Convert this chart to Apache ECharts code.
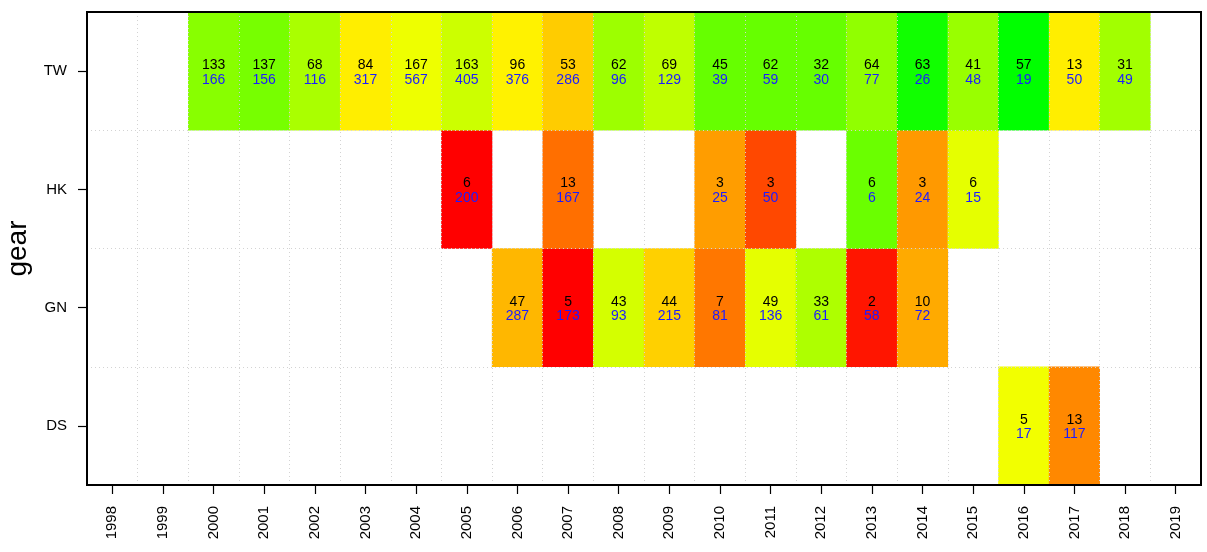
<!DOCTYPE html>
<html>
<head>
<meta charset="utf-8">
<script src="https://cdn.jsdelivr.net/npm/echarts@6/dist/echarts.min.js"></script>
<style>
html,body{margin:0;padding:0;background:#fff;}
#chart{width:1207px;height:552px;}
</style>
</head>
<body>
<div id="chart"></div>
<script>
// ---- data ----
const years = ['1998','1999','2000','2001','2002','2003','2004','2005','2006','2007','2008',
               '2009','2010','2011','2012','2013','2014','2015','2016','2017','2018','2019'];
const gears = ['DS','GN','HK','TW'];

// upper (black) numbers per year
const twTop = [null,null,133,137,68,84,167,163,96,53,62,69,45,62,32,64,63,41,57,13,31,null];
const hkTop = [null,null,null,null,null,null,null,6,null,13,null,null,3,3,null,6,3,6,null,null,null,null];
const gnTop = [null,null,null,null,null,null,null,null,47,5,43,44,7,49,33,2,10,null,null,null,null,null];
const dsTop = [null,null,null,null,null,null,null,null,null,null,null,null,null,null,null,null,null,null,5,13,null,null];

// lower (blue) numbers per year
const twBottom = [null,null,166,156,116,317,567,405,376,286,96,129,39,59,30,77,26,48,19,50,49,null];
const hkBottom = [null,null,null,null,null,null,null,200,null,167,null,null,25,50,null,6,24,15,null,null,null,null];
const gnBottom = [null,null,null,null,null,null,null,null,287,173,93,215,81,136,61,58,72,null,null,null,null,null];
const dsBottom = [null,null,null,null,null,null,null,null,null,null,null,null,null,null,null,null,null,null,17,117,null,null];

// colour score (0 = red, 60 = yellow, 120 = green)
const twScore = [null,null,88,92,80,56,64,72,57,48,83,75,96,96,96,86,116,84,120,56,82,null];
const hkScore = [null,null,null,null,null,null,null,0,null,26,null,null,37,17,null,95,36,66,null,null,null,null];
const gnScore = [null,null,null,null,null,null,null,null,43,0,70,49,28,66,79,5,40,null,null,null,null,null];
const dsScore = [null,null,null,null,null,null,null,null,null,null,null,null,null,null,null,null,null,null,63,32,null,null];

// ---- build ----
const rows = [
  [dsTop, dsBottom, dsScore],
  [gnTop, gnBottom, gnScore],
  [hkTop, hkBottom, hkScore],
  [twTop, twBottom, twScore]
];
const cells = [];
rows.forEach((r, yi) => {
  years.forEach((y, xi) => {
    if (r[0][xi] !== null) cells.push([xi, yi, r[2][xi], r[0][xi], r[1][xi]]);
  });
});

const FONT = '"Liberation Sans", Arial, Helvetica, sans-serif';
const chart = echarts.init(document.getElementById('chart'), null, {renderer: 'canvas'});
chart.setOption({
  animation: false,
  backgroundColor: '#fff',
  textStyle: {fontFamily: FONT},
  grid: {left: 87, right: 6, top: 12, bottom: 67, show: true, z: 6,
         containLabel: false, outerBoundsMode: 'none',
         borderColor: '#000', borderWidth: 2, backgroundColor: 'transparent'},
  xAxis: {
    type: 'category', data: years, boundaryGap: true, z: 4,
    axisLine: {show: false},
    axisTick: {show: true, alignWithLabel: true, length: 9, inside: false,
               lineStyle: {color: '#000', width: 1.2}},
    axisLabel: {rotate: 90, fontSize: 15, color: '#000', margin: 21, interval: 0, fontFamily: FONT},
    splitLine: {show: true, interval: 0, lineStyle: {color: '#d3d3d3', width: 1, type: [1, 3]}}
  },
  yAxis: {
    type: 'category', data: gears, boundaryGap: true, z: 4,
    name: 'gear', nameLocation: 'middle', nameRotate: 90, nameGap: 50,
    nameTextStyle: {fontSize: 28, color: '#000', fontFamily: FONT},
    axisLine: {show: false},
    axisTick: {show: true, alignWithLabel: true, length: 9, inside: false,
               lineStyle: {color: '#000', width: 1.2}},
    axisLabel: {fontSize: 15, color: '#000', margin: 20, fontFamily: FONT},
    splitLine: {show: true, interval: 0, lineStyle: {color: '#d3d3d3', width: 1, type: [1, 3]}}
  },
  visualMap: {
    show: false, type: 'continuous', dimension: 2, min: 0, max: 120,
    inRange: {color: ['#ff0000', '#ffff00', '#00ff00']}
  },
  series: [{
    type: 'heatmap',
    data: cells,
    itemStyle: {borderWidth: 0},
    label: {
      show: true,
      offset: [0, 1.5],
      textBorderWidth: 0,
      formatter: p => '{a|' + p.data[3] + '}\n{b|' + p.data[4] + '}',
      rich: {
        a: {color: '#000', fontSize: 14, lineHeight: 14.5, fontFamily: FONT, textBorderWidth: 0},
        b: {color: '#1c1cff', fontSize: 14, lineHeight: 14.5, fontFamily: FONT, textBorderWidth: 0}
      }
    },
    emphasis: {disabled: true}
  }]
});
</script>
</body>
</html>
